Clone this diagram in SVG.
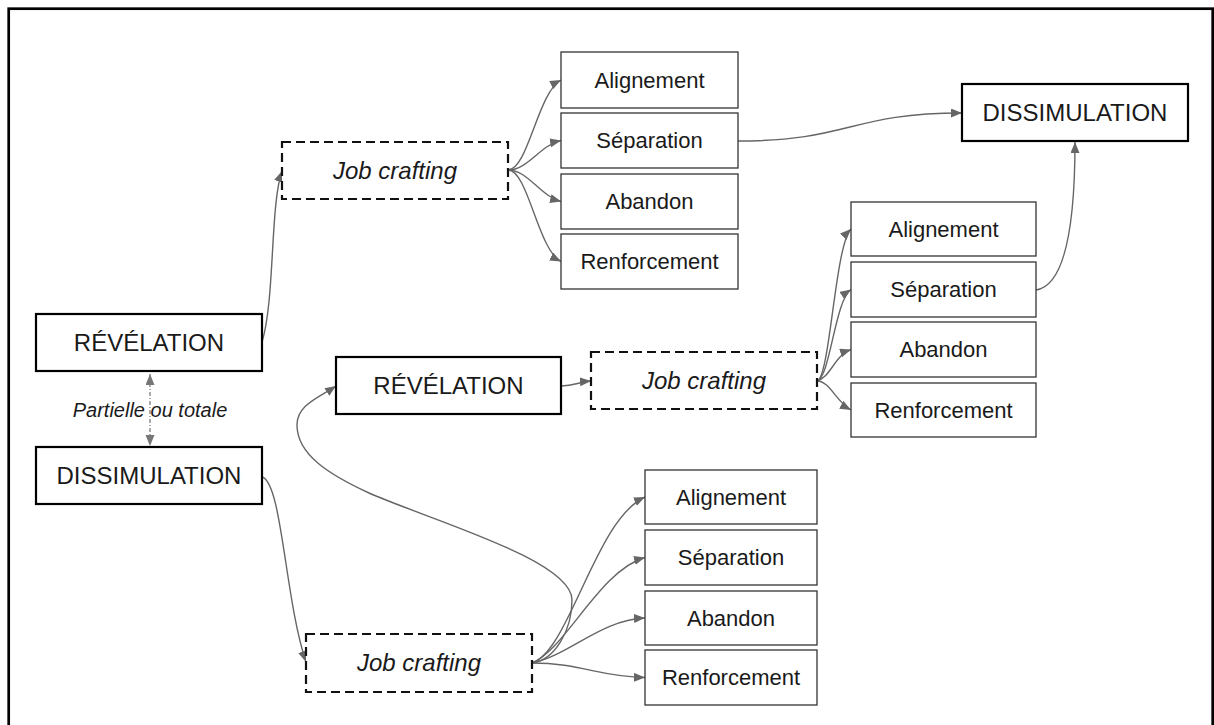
<svg xmlns="http://www.w3.org/2000/svg" width="1214" height="725" viewBox="0 0 1214 725">
<style>
  .big { fill: #fff; stroke: #000; stroke-width: 2.2; }
  .small { fill: #fff; stroke: #333; stroke-width: 1.3; }
  .dash { fill: #fff; stroke: #111; stroke-width: 2.2; stroke-dasharray: 9 5; }
  .t { font-family: "Liberation Sans", Arial, sans-serif; fill: #1a1a1a; text-anchor: middle; }
  .tb { font-size: 24px; }
  .ts { font-size: 22px; }
  .ti { font-size: 24px; font-style: italic; }
  .lbl { font-family: "Liberation Sans", Arial, sans-serif; font-size: 20px; font-style: italic; fill: #1a1a1a; text-anchor: middle; }
  .c { fill: none; stroke: #666; stroke-width: 1.4; marker-end: url(#ah); }
</style>
<defs>
  <marker id="ah" markerUnits="userSpaceOnUse" markerWidth="12" markerHeight="10" refX="11" refY="4.5" orient="auto">
    <path d="M0,0 L11,4.5 L0,9 z" fill="#666"/>
  </marker>
  <marker id="ahg" markerUnits="userSpaceOnUse" markerWidth="12" markerHeight="10" refX="11" refY="4.5" orient="auto-start-reverse">
    <path d="M0,0 L11,4.5 L0,9 z" fill="#777"/>
  </marker>
</defs>
<rect x="0" y="0" width="1214" height="725" fill="#fff"/>
<rect x="8.7" y="8.7" width="1204" height="740" fill="none" stroke="#000" stroke-width="2.7"/>

<g id="connectors">
  <path class="c" d="M262,342 C275,300 270,205 282,171"/>
  <path class="c" d="M262,477 C282,482 285,600 306,662"/>
  <path class="c" d="M508,170 C528,170 538,92 561,80"/>
  <path class="c" d="M508,170 C528,170 540,145 561,140.5"/>
  <path class="c" d="M508,170 C528,170 540,196 561,201.5"/>
  <path class="c" d="M508,170 C528,170 538,250 561,261.5"/>
  <path class="c" d="M738,141 C850,141 850,113 962,113"/>
  <path class="c" d="M561,386 C575,386 578,382 591,381"/>
  <path class="c" d="M817,381 C830,378 835,245 851,229"/>
  <path class="c" d="M817,381 C830,378 835,300 851,289.5"/>
  <path class="c" d="M817,381 C830,378 835,355 851,349.5"/>
  <path class="c" d="M817,381 C830,381 836,402 851,410"/>
  <path class="c" d="M1036,290 C1070,285 1075,200 1075,142"/>
  <path class="c" d="M532,663 C570,650 595,520 645,497"/>
  <path class="c" d="M532,663 C565,650 600,570 645,557.5"/>
  <path class="c" d="M532,663 C570,655 600,620 645,618"/>
  <path class="c" d="M532,663 C580,663 600,677 645,677.5"/>
  <path class="c" d="M532,663 C555,660 572,630 572,600 C572,560 430,520 369,493 C330,475 297,455 297,425 C297,405 318,398 336,386"/>
  <line x1="150" y1="374" x2="150" y2="446" stroke="#888" stroke-width="1.4" stroke-dasharray="4 2 1 2" marker-start="url(#ahg)" marker-end="url(#ahg)"/>
</g>

<text class="lbl" x="150" y="417">Partielle ou totale</text>

<g id="revelation-left"><rect class="big" x="36" y="314" width="226" height="57"/><text class="t tb" x="149" y="351">RÉVÉLATION</text></g>
<g id="dissimulation-left"><rect class="big" x="36" y="447" width="226" height="57"/><text class="t tb" x="149" y="484">DISSIMULATION</text></g>

<g id="jobcrafting-top"><rect class="dash" x="282" y="142" width="226" height="57"/><text class="t ti" x="395" y="179">Job crafting</text></g>
<g id="alignement-top"><rect class="small" x="561" y="52" width="177" height="56"/><text class="t ts" x="649.5" y="88">Alignement</text></g>
<g id="separation-top"><rect class="small" x="561" y="113" width="177" height="55"/><text class="t ts" x="649.5" y="148">Séparation</text></g>
<g id="abandon-top"><rect class="small" x="561" y="174" width="177" height="55"/><text class="t ts" x="649.5" y="209">Abandon</text></g>
<g id="renforcement-top"><rect class="small" x="561" y="234" width="177" height="55"/><text class="t ts" x="649.5" y="269">Renforcement</text></g>

<g id="dissimulation-top"><rect class="big" x="962" y="84" width="226" height="57"/><text class="t tb" x="1075" y="121">DISSIMULATION</text></g>

<g id="revelation-mid"><rect class="big" x="336" y="357" width="225" height="57"/><text class="t tb" x="448.5" y="394">RÉVÉLATION</text></g>
<g id="jobcrafting-mid"><rect class="dash" x="591" y="352" width="226" height="57"/><text class="t ti" x="704" y="389">Job crafting</text></g>
<g id="alignement-mid"><rect class="small" x="851" y="202" width="185" height="54"/><text class="t ts" x="943.5" y="237">Alignement</text></g>
<g id="separation-mid"><rect class="small" x="851" y="262" width="185" height="55"/><text class="t ts" x="943.5" y="297">Séparation</text></g>
<g id="abandon-mid"><rect class="small" x="851" y="322" width="185" height="55"/><text class="t ts" x="943.5" y="357">Abandon</text></g>
<g id="renforcement-mid"><rect class="small" x="851" y="383" width="185" height="54"/><text class="t ts" x="943.5" y="418">Renforcement</text></g>

<g id="jobcrafting-bottom"><rect class="dash" x="306" y="634" width="226" height="58"/><text class="t ti" x="419" y="671">Job crafting</text></g>
<g id="alignement-bottom"><rect class="small" x="645" y="470" width="172" height="54"/><text class="t ts" x="731" y="505">Alignement</text></g>
<g id="separation-bottom"><rect class="small" x="645" y="530" width="172" height="55"/><text class="t ts" x="731" y="565">Séparation</text></g>
<g id="abandon-bottom"><rect class="small" x="645" y="591" width="172" height="54"/><text class="t ts" x="731" y="626">Abandon</text></g>
<g id="renforcement-bottom"><rect class="small" x="645" y="650" width="172" height="55"/><text class="t ts" x="731" y="685">Renforcement</text></g>
</svg>
